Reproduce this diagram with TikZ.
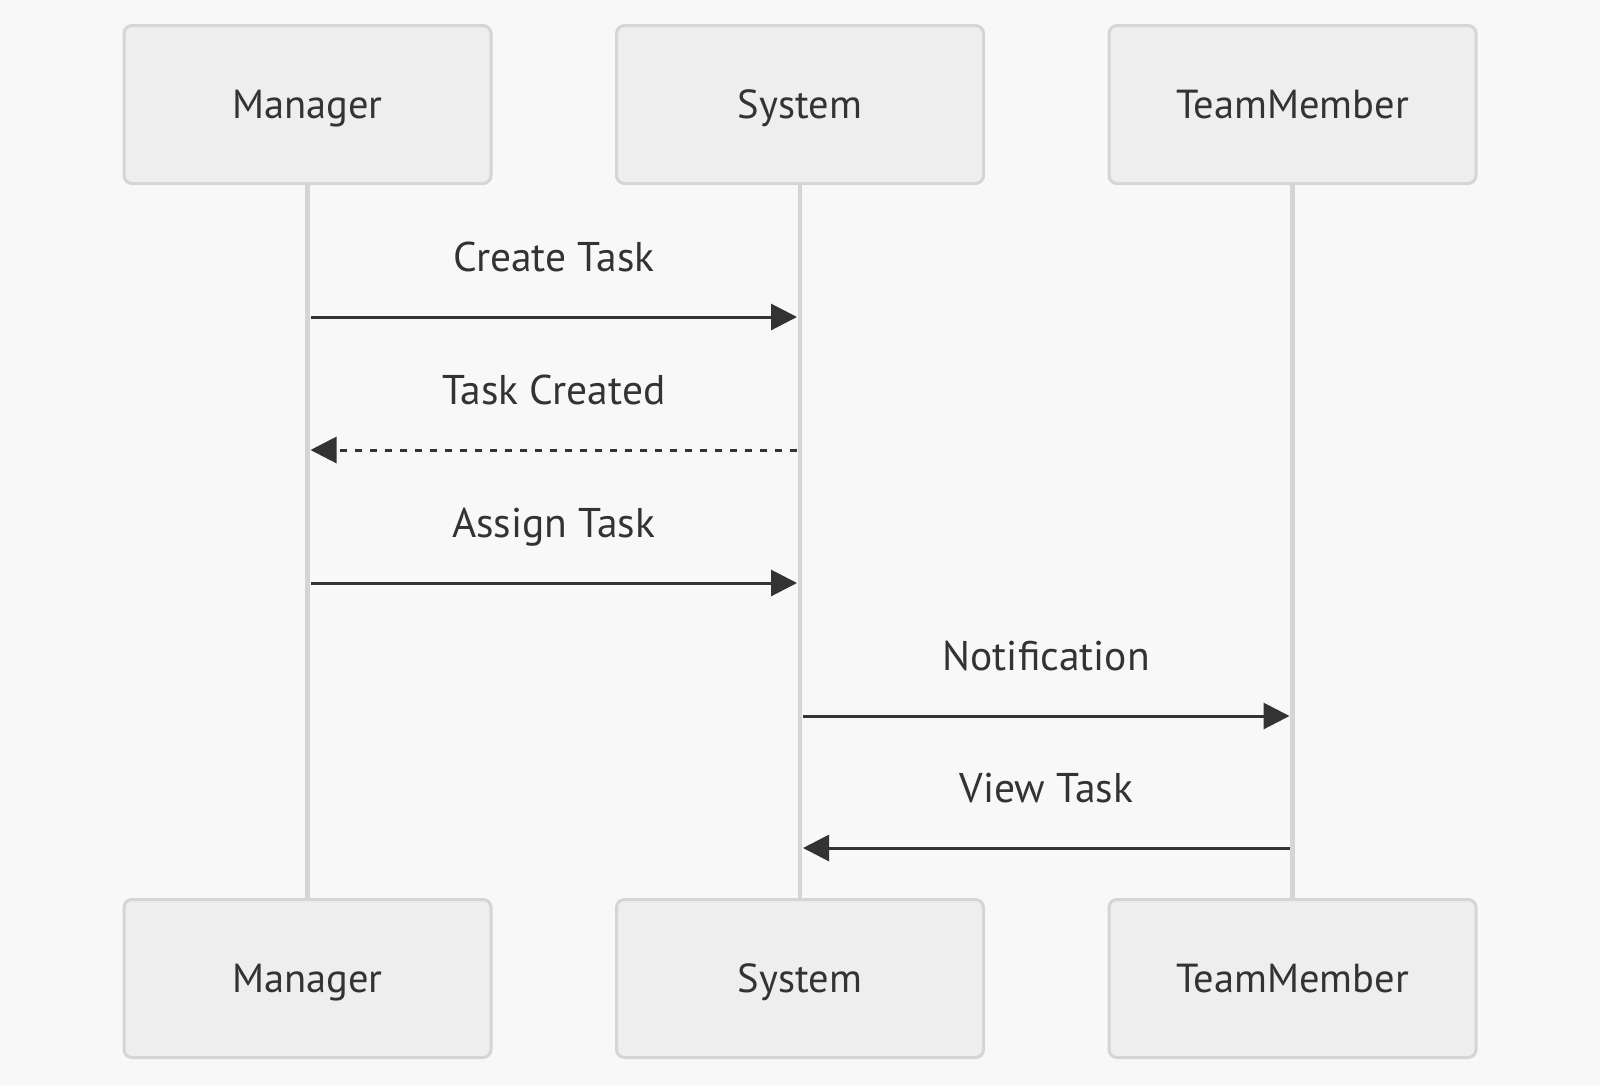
\documentclass[tikz,border=0pt]{standalone}
\usepackage{fontspec}
\setmainfont{PT Sans}
\usetikzlibrary{arrows.meta}
\definecolor{bg}{HTML}{F8F8F8}
\definecolor{boxfill}{HTML}{EEEEEE}
\definecolor{boxline}{HTML}{D5D5D5}
\definecolor{ink}{HTML}{333333}
\begin{document}
\begin{tikzpicture}[x=1pt,y=-1pt,
  actor/.style={draw=boxline, line width=3pt, fill=boxfill, rounded corners=8pt,
    minimum width=367pt, minimum height=158pt, inner sep=0pt,
    text height=28pt, text depth=0pt,
    font=\fontsize{40.5}{46}\selectfont, text=ink},
  lifeline/.style={draw=boxline, line width=4.5pt},
  msg/.style={draw=ink, line width=3pt, -{Triangle[length=26pt,width=26pt]},
    shorten <=3pt, shorten >=3pt},
  reply/.style={msg, dash pattern=on 7pt off 8pt},
  lbl/.style={font=\fontsize{41.5}{46}\selectfont, text=ink, inner sep=0pt,
    text height=29pt, text depth=0pt, midway, yshift=60pt}]
\fill[bg] (0,0) rectangle (1600,1085);
\useasboundingbox (0,0) rectangle (1600,1085);
% actors
\node[actor] (mt) at (307.5,104.5) {Manager};
\node[actor] (st) at (800,104.5) {System};
\node[actor] (tt) at (1292.5,104.5) {TeamMember};
\node[actor] (mb) at (307.5,978.5) {Manager};
\node[actor] (sb) at (800,978.5) {System};
\node[actor] (tb) at (1292.5,978.5) {TeamMember};
% lifelines
\draw[lifeline] (mt.south) -- (mb.north);
\draw[lifeline] (st.south) -- (sb.north);
\draw[lifeline] (tt.south) -- (tb.north);
% message points
\coordinate (m1) at (mt.south |- 0,317);
\coordinate (s1) at (st.south |- 0,317);
\coordinate (m2) at (mt.south |- 0,450);
\coordinate (s2) at (st.south |- 0,450);
\coordinate (m3) at (mt.south |- 0,583);
\coordinate (s3) at (st.south |- 0,583);
\coordinate (s4) at (st.south |- 0,716);
\coordinate (t4) at (tt.south |- 0,716);
\coordinate (s5) at (st.south |- 0,848);
\coordinate (t5) at (tt.south |- 0,848);
% messages
\draw[msg] (m1) -- node[lbl] (l1) {Create Task} (s1);
\draw[reply] (s2) -- node[lbl] (l2) {Task Created} (m2);
\draw[msg] (m3) -- node[lbl] (l3) {Assign Task} (s3);
\draw[msg] (s4) -- node[lbl] (l4) {Notification} (t4);
\draw[msg] (t5) -- node[lbl] (l5) {View Task} (s5);
\end{tikzpicture}
\end{document}
